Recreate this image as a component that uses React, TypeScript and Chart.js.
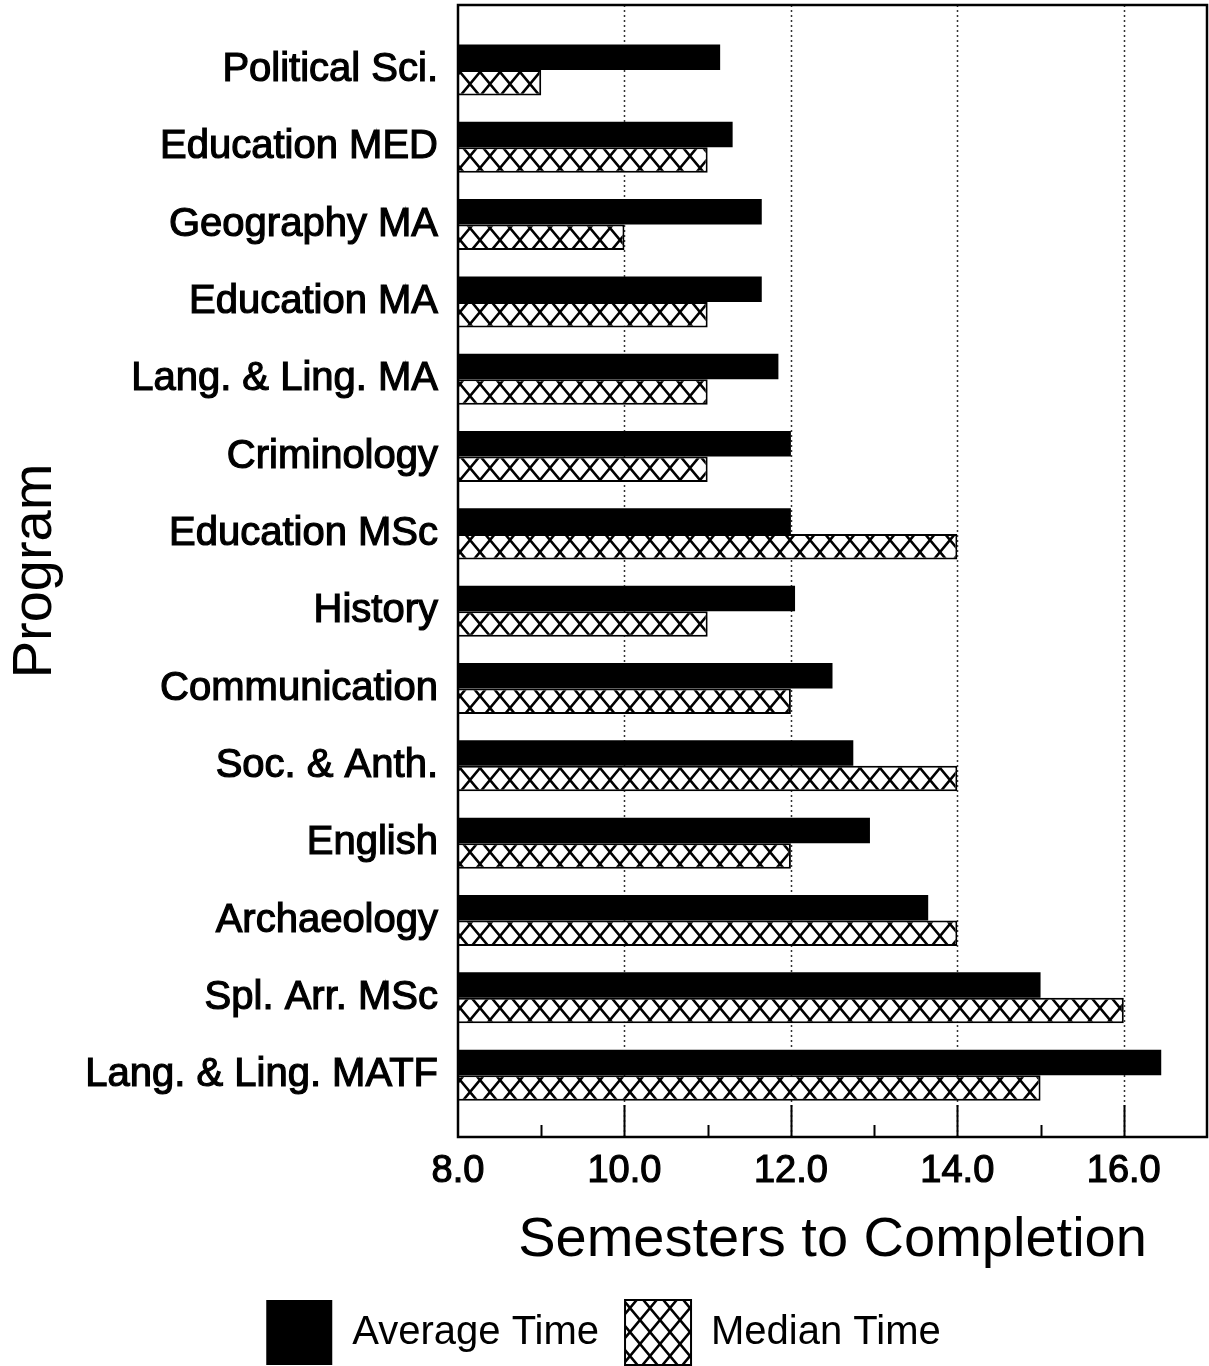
import React, { useEffect, useRef } from 'react';
import { Chart, registerables } from 'chart.js';

Chart.register(...registerables);

const programs = [
  'Political Sci.',
  'Education MED',
  'Geography MA',
  'Education MA',
  'Lang. & Ling. MA',
  'Criminology',
  'Education MSc',
  'History',
  'Communication',
  'Soc. & Anth.',
  'English',
  'Archaeology',
  'Spl. Arr. MSc',
  'Lang. & Ling. MATF',
];
const averageTime = [11.15, 11.3, 11.65, 11.65, 11.85, 12.0, 12.0, 12.05, 12.5, 12.75, 12.95, 13.65, 15.0, 16.45];
const medianTime = [9.0, 11.0, 10.0, 11.0, 11.0, 11.0, 14.0, 11.0, 12.0, 14.0, 12.0, 14.0, 16.0, 15.0];
const xMajorTicks = [8, 10, 12, 14, 16];
const xMinorTicks = [9, 11, 13, 15];
const xGridLines = [10, 12, 14, 16];

const FONT = "'Liberation Sans', Arial, Helvetica, sans-serif";

function makeHatch(): CanvasPattern | string {
  const w = 20;
  const h = 24;
  const c = document.createElement('canvas');
  c.width = w;
  c.height = h;
  const g = c.getContext('2d');
  if (!g) return '#fff';
  g.fillStyle = '#ffffff';
  g.fillRect(0, 0, w, h);
  g.strokeStyle = '#000000';
  g.lineWidth = 2.6;
  g.beginPath();
  for (const dx of [-w, 0, w]) {
    g.moveTo(dx, 0);
    g.lineTo(dx + w, h);
    g.moveTo(dx + w, 0);
    g.lineTo(dx, h);
  }
  g.stroke();
  const p = g.createPattern(c, 'repeat');
  return p || '#fff';
}

const framePlugin = {
  id: 'frameAndGrid',
  beforeDatasetsDraw(chart: any) {
    const { ctx, chartArea } = chart;
    const x = chart.scales.x;
    ctx.save();
    ctx.strokeStyle = '#333';
    ctx.lineWidth = 1.5;
    ctx.setLineDash([2, 3]);
    for (const v of xGridLines) {
      const px = Math.round(x.getPixelForValue(v)) + 0.5;
      ctx.beginPath();
      ctx.moveTo(px, chartArea.top);
      ctx.lineTo(px, chartArea.bottom);
      ctx.stroke();
    }
    ctx.restore();
  },
  afterDatasetsDraw(chart: any) {
    const { ctx, chartArea } = chart;
    const x = chart.scales.x;
    ctx.save();
    ctx.strokeStyle = '#000';
    ctx.lineWidth = 2;
    ctx.setLineDash([]);
    for (const v of xMajorTicks) {
      if (v === 8) continue;
      const px = Math.round(x.getPixelForValue(v)) + 0.5;
      ctx.beginPath();
      ctx.moveTo(px, chartArea.bottom);
      ctx.lineTo(px, chartArea.bottom - 32);
      ctx.stroke();
    }
    for (const v of xMinorTicks) {
      const px = Math.round(x.getPixelForValue(v)) + 0.5;
      ctx.beginPath();
      ctx.moveTo(px, chartArea.bottom);
      ctx.lineTo(px, chartArea.bottom - 12);
      ctx.stroke();
    }
    ctx.lineWidth = 2.5;
    ctx.strokeRect(chartArea.left, chartArea.top, chartArea.right - chartArea.left, chartArea.bottom - chartArea.top);
    ctx.restore();
  },
};

export default function App() {
  const ref = useRef<HTMLCanvasElement | null>(null);

  useEffect(() => {
    if (!ref.current) return;
    Chart.defaults.font.family = FONT;
    Chart.defaults.color = '#000';
    const hatch = makeHatch();
    const chart = new Chart(ref.current, {
      type: 'bar',
      data: {
        labels: programs.map((_, i) => i),
        datasets: [
          {
            label: 'Average Time',
            data: averageTime.map((v, i) => ({ x: v, y: i })),
            backgroundColor: '#000000',
            borderWidth: 0,
            categoryPercentage: 0.66,
            barPercentage: 1,
          },
          {
            label: 'Median Time',
            data: medianTime.map((v, i) => ({ x: v, y: i })),
            backgroundColor: hatch as any,
            borderColor: '#000000',
            borderWidth: 2,
            categoryPercentage: 0.66,
            barPercentage: 1,
          },
        ],
      },
      options: {
        indexAxis: 'y',
        responsive: false,
        animation: false,
        layout: { padding: { top: 5, right: 2, left: 0, bottom: 0 } },
        plugins: {
          tooltip: { enabled: false },
          legend: {
            position: 'bottom',
            labels: {
              boxWidth: 66,
              boxHeight: 65,
              padding: 26,
              font: { size: 40, family: FONT },
              color: '#000',
            },
          },
        },
        scales: {
          x: {
            type: 'linear',
            min: 8,
            max: 17,
            offset: false,
            grid: { display: false, drawTicks: false },
            border: { display: false },
            afterBuildTicks: (s: any) => {
              s.ticks = xMajorTicks.map((v) => ({ value: v }));
            },
            afterFit: (s: any) => {
              s.height = 137;
              s.paddingLeft = 0;
              s.paddingRight = 0;
            },
            ticks: {
              padding: 12,
              font: { size: 38, family: FONT },
              color: '#000',
              textStrokeColor: '#000',
              textStrokeWidth: 1.2,
              callback: (v: any) => Number(v).toFixed(1),
              maxRotation: 0,
            },
            title: {
              display: true,
              text: 'Semesters to Completion',
              font: { size: 56, family: FONT },
              color: '#000',
              padding: { top: 0, bottom: 0 },
            },
          },
          y: {
            type: 'linear',
            reverse: true,
            min: -0.84,
            max: 13.8,
            offset: false,
            grid: { display: false, drawTicks: false, offset: false },
            border: { display: false },
            afterBuildTicks: (s: any) => {
              s.ticks = programs.map((_, i) => ({ value: i }));
            },
            afterFit: (s: any) => {
              s.width = 458;
              s.paddingTop = 0;
              s.paddingBottom = 0;
            },
            ticks: {
              padding: 20,
              font: { size: 40, family: FONT },
              color: '#000',
              textStrokeColor: '#000',
              textStrokeWidth: 1.2,
              callback: (v: any) => programs[Number(v)] ?? '',
            },
            title: {
              display: true,
              text: 'Program',
              font: { size: 56, family: FONT },
              color: '#000',
              padding: { top: 2, bottom: 0 },
            },
          },
        },
      } as any,
      plugins: [framePlugin],
    });
    return () => chart.destroy();
  }, []);

  return (
    <div style={{ position: 'absolute', left: 0, top: 0, width: 1209, height: 1375, background: '#fff' }}>
      <canvas ref={ref} width={1209} height={1375} style={{ display: 'block', width: 1209, height: 1375 }} />
    </div>
  );
}
